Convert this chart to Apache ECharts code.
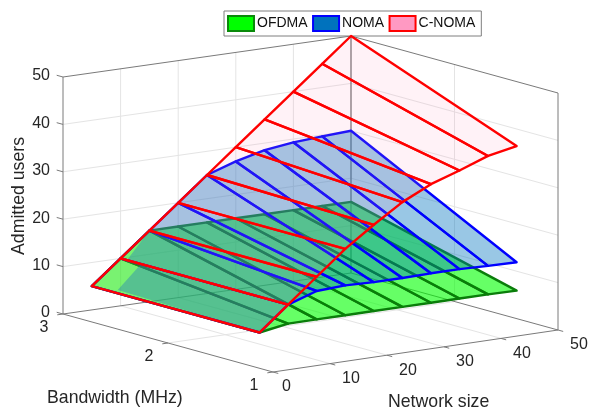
<!DOCTYPE html>
<html>
<head>
<meta charset="utf-8">
<style>html,body{margin:0;padding:0;background:#fff}#main{width:591px;height:409px}</style>
<script src="https://cdn.jsdelivr.net/npm/echarts@6/dist/echarts.min.js"></script>
</head>
<body>
<div id="main"></div>
<script>
// 读图得到的数据
const networkSizes = [5, 10, 15, 20, 25, 30, 35, 40, 45, 50]
const bandLow = 1.4
const bandHigh = 3
const ofdmaHigh = [5, 10, 15, 15, 15, 15, 15, 15, 15, 15]
const ofdmaLow = [5, 6, 6, 6, 6, 6, 6, 6, 6, 5.9]
const nomaHigh = [5, 10, 15, 20, 25, 27, 28.5, 29.3, 29.7, 30]
const nomaLow = [5, 10, 12, 12.3, 12.1, 12.1, 12.2, 12.2, 12, 11.9]
const cnomaHigh = [5, 10, 15, 20, 25, 30, 35, 40, 45, 50]
const cnomaLow = [5, 10, 15, 20, 24.2, 28.1, 31, 33, 35.2, 36.4]
// NOMA 填充在左下角没有铺满网格，单独两块
const nomaPatchUpper = [[15, 3, 15], [10, 2.94, 10], [10, 1.4, 10], [15, 1.4, 12]]
const nomaPatchLower = [[10, 2.805, 10], [9.5, 3, 3.4], [5, 1.4, 5], [10, 1.4, 10]]
const zTicks = [0, 10, 20, 30, 40, 50]
const netTicks = [0, 10, 20, 30, 40, 50]
const bandTicks = [1, 2, 3]

const textColor = '#262626'
const fontFamily = '"Liberation Sans", Arial, sans-serif'

// 三维投影：底面四个角做双线性插值，z 轴竖直
const corner00 = [63, 314]   // N=0, B=3
const corner01 = [273, 372]  // N=0, B=1
const corner11 = [558, 330]  // N=50, B=1
const corner10 = [351, 273]  // N=50, B=3
const zScale = 4.74

function project(n, b, z) {
  let u = n / 50
  let v = (3 - b) / 2
  let x = (1 - u) * (1 - v) * corner00[0] + (1 - u) * v * corner01[0] + u * v * corner11[0] + u * (1 - v) * corner10[0]
  let y = (1 - u) * (1 - v) * corner00[1] + (1 - u) * v * corner01[1] + u * v * corner11[1] + u * (1 - v) * corner10[1]
  return [x, y - z * zScale]
}

function surfaceSeries(name, high, low, color, edge, opacity, zlevel, patches) {
  return {
    name: name,
    type: 'custom',
    coordinateSystem: 'cartesian2d',
    silent: true,
    z: zlevel,
    clip: false,
    itemStyle: { color: color, borderColor: edge, borderWidth: 2 },
    data: networkSizes.slice(0, -1).map((n, i) => [i]),
    renderItem(params, api) {
      let i = api.value(0)
      let toPx = p => api.coord(project(p[0], p[1], p[2]))
      let quad = [
        [networkSizes[i], bandHigh, high[i]],
        [networkSizes[i + 1], bandHigh, high[i + 1]],
        [networkSizes[i + 1], bandLow, low[i + 1]],
        [networkSizes[i], bandLow, low[i]]
      ].map(toPx)
      let children = []
      // 有单独填充块的网格不画自己的填充
      let patch = patches && patches[i]
      children.push({
        type: 'polygon',
        shape: { points: patch ? patch.map(toPx) : quad },
        style: { fill: color, opacity: opacity }
      })
      children.push({
        type: 'polygon',
        shape: { points: quad },
        style: { fill: 'none', stroke: edge, lineWidth: 2.4, lineJoin: 'round' }
      })
      return { type: 'group', children: children }
    }
  }
}

// 背景盒子、网格、刻度线、刻度文字
const gridColor = '#e4e4e4'
const boxColor = '#7a7a7a'

function segments(api) {
  let out = []
  let line = (a, b, stroke, width) => {
    let p = api.coord(project(a[0], a[1], a[2]))
    let q = api.coord(project(b[0], b[1], b[2]))
    out.push({
      type: 'line',
      shape: { x1: p[0], y1: p[1], x2: q[0], y2: q[1] },
      style: { stroke: stroke, lineWidth: width || 1 }
    })
  }
  // 网格
  netTicks.slice(1, -1).forEach(n => {
    line([n, 3, 0], [n, 3, 50], gridColor)
    line([n, 1, 0], [n, 3, 0], gridColor)
  })
  zTicks.slice(1, -1).forEach(z => {
    line([0, 3, z], [50, 3, z], gridColor)
    line([50, 3, z], [50, 1, z], gridColor)
  })
  line([0, 2, 0], [50, 2, 0], gridColor)
  line([50, 2, 0], [50, 2, 50], gridColor)
  // 盒子
  line([0, 3, 0], [0, 3, 50], boxColor)
  line([0, 3, 50], [50, 3, 50], boxColor)
  line([50, 3, 50], [50, 1, 50], boxColor)
  line([50, 1, 50], [50, 1, 0], boxColor)
  line([50, 3, 0], [50, 3, 50], boxColor, 1.4)
  line([0, 3, 0], [50, 3, 0], boxColor)
  line([50, 3, 0], [50, 1, 0], boxColor)
  line([0, 3, 0], [0, 1, 0], boxColor)
  line([0, 1, 0], [50, 1, 0], boxColor)
  // 刻度
  zTicks.forEach(z => line([0, 3, z], [0, 3.06, z], boxColor))
  netTicks.forEach(n => line([n, 1, 0], [n, 0.95, 0], boxColor))
  bandTicks.forEach(b => line([0, b, 0], [-1, b, 0], boxColor))
  return out
}

function tickLabel(api, anchor, dx, dy, text, align) {
  let p = api.coord(project(anchor[0], anchor[1], anchor[2]))
  return {
    type: 'text',
    x: p[0] + dx,
    y: p[1] + dy,
    style: { text: text, fill: textColor, font: '16px ' + fontFamily, align: align, verticalAlign: 'middle' }
  }
}

const boxSeries = {
  type: 'custom',
  coordinateSystem: 'cartesian2d',
  silent: true,
  z: 1,
  clip: false,
  data: [[0]],
  renderItem(params, api) {
    let children = segments(api)
    zTicks.forEach(z => children.push(tickLabel(api, [0, 3, z], -13, -1, String(z), 'right')))
    netTicks.forEach(n => children.push(tickLabel(api, [n, 1, 0], n === 0 ? 9 : 12, 15, String(n), 'left')))
    bandTicks.forEach(b => children.push(tickLabel(api, [0, b, 0], -19, 14, String(b), 'center')))
    return { type: 'group', children: children }
  }
}

const chart = echarts.init(document.getElementById('main'), null, { renderer: 'canvas', width: 591, height: 409 })
const option = {
  animation: false,
  backgroundColor: '#fff',
  grid: { left: 0, right: 0, top: 0, bottom: 0 },
  xAxis: { type: 'value', min: 0, max: 591, show: false },
  yAxis: { type: 'value', min: 0, max: 409, inverse: true, show: false },
  legend: {
    left: 224,
    top: 11,
    orient: 'horizontal',
    padding: [4, 6, 4, 3],
    itemGap: 4.5,
    itemWidth: 26,
    itemHeight: 15,
    borderColor: '#7f7f7f',
    borderWidth: 1,
    backgroundColor: '#fff',
    selectedMode: false,
    textStyle: { color: '#111', fontSize: 14, fontFamily: fontFamily, padding: [0, 0, 0, -2] },
    data: [
      { name: 'OFDMA', icon: 'rect', itemStyle: { color: '#00ff00', borderColor: '#0a8a0a', borderWidth: 2 } },
      { name: 'NOMA', icon: 'rect', itemStyle: { color: '#0072bd', borderColor: '#0000ff', borderWidth: 2 } },
      { name: 'C-NOMA', icon: 'rect', itemStyle: { color: '#ff99c2', borderColor: '#ff0000', borderWidth: 2 } }
    ]
  },
  graphic: [
    { type: 'text', left: 47, top: 389, z: 100, style: { text: 'Bandwidth (MHz)', fill: textColor, font: '17.7px ' + fontFamily } },
    { type: 'text', left: 388, top: 393, z: 100, style: { text: 'Network size', fill: textColor, font: '17.7px ' + fontFamily } },
    { type: 'text', x: 19, y: 196, rotation: Math.PI / 2, z: 100, style: { text: 'Admitted users', fill: textColor, font: '17.7px ' + fontFamily, align: 'center', verticalAlign: 'middle' } }
  ],
  series: [
    boxSeries,
    surfaceSeries('OFDMA', ofdmaHigh, ofdmaLow, '#00ff00', '#0a7d0a', 0.6, 2),
    surfaceSeries('NOMA', nomaHigh, nomaLow, '#0072bd', '#0000ff', 0.4, 3, [nomaPatchLower, nomaPatchUpper]),
    surfaceSeries('C-NOMA', cnomaHigh, cnomaLow, '#ff99c2', '#ff0000', 0.13, 4)
  ]
}
chart.setOption(option)
</script>
</body>
</html>
